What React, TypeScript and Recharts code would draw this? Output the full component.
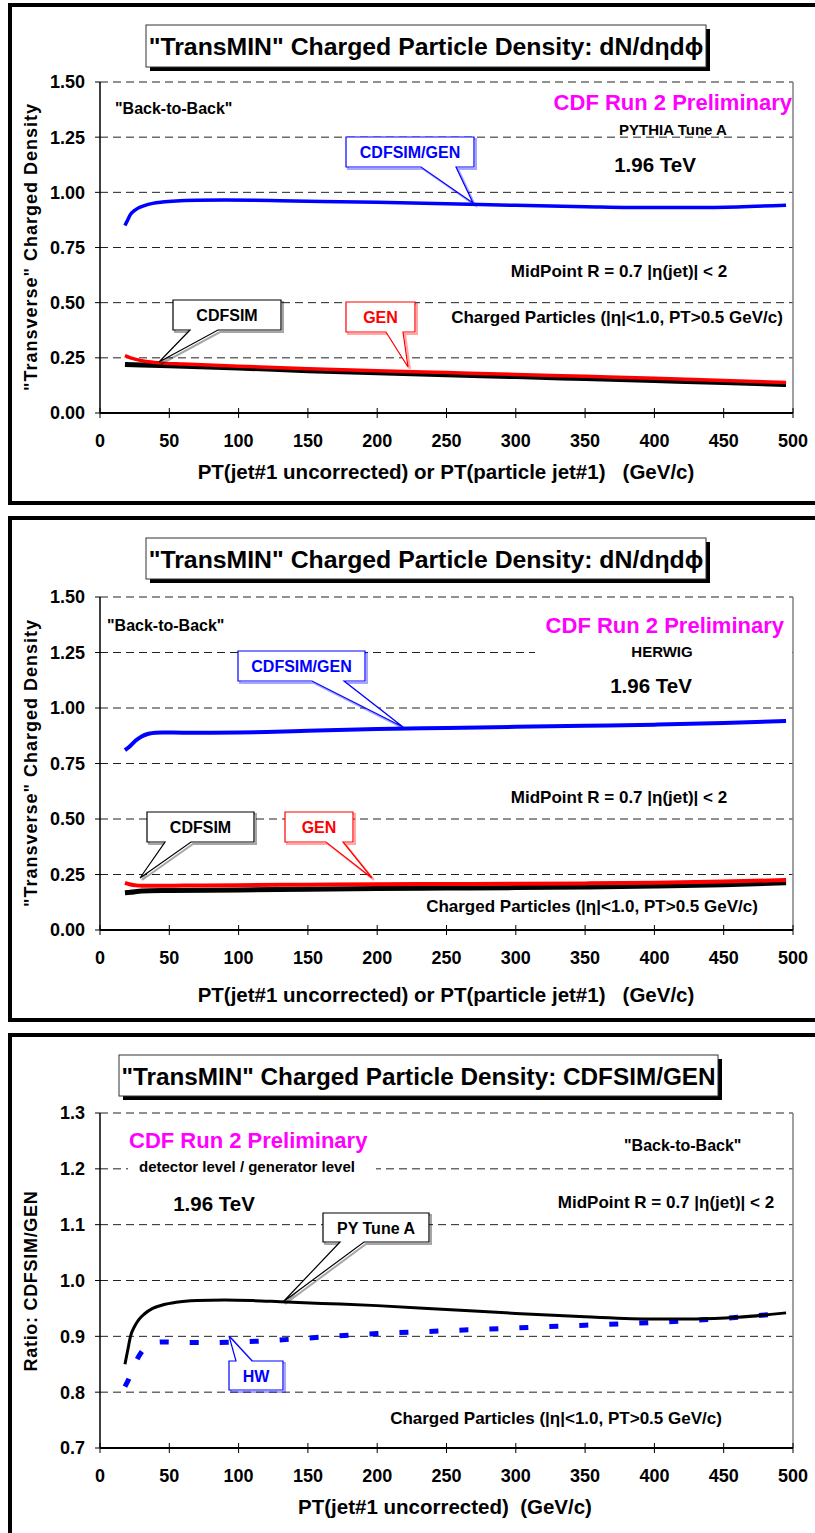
import React from "react";
import { LineChart, Line, XAxis, YAxis, CartesianGrid, ReferenceLine } from "recharts";

const FONT = "'Liberation Sans', Arial, Helvetica, sans-serif";

// shared axes
const ptTicks = [0, 50, 100, 150, 200, 250, 300, 350, 400, 450, 500];
const densityTicks = [0, 0.25, 0.5, 0.75, 1, 1.25, 1.5];
const ratioTicks = [0.7, 0.8, 0.9, 1.0, 1.1, 1.2, 1.3];

// panel 1 - PYTHIA Tune A
const pyRatioPt = [18, 20, 22, 25, 28, 32, 38, 45, 55, 70, 90, 110, 130, 160, 200, 250, 300, 350, 400, 430, 460, 495];
const pyRatio = [0.85, 0.875, 0.9, 0.918, 0.93, 0.94, 0.95, 0.956, 0.961, 0.964, 0.965, 0.964, 0.962, 0.959, 0.955, 0.948, 0.941, 0.935, 0.931, 0.931, 0.934, 0.942];
const pyGenPt = [18, 22, 26, 30, 35, 45, 60, 100, 150, 200, 250, 300, 350, 400, 450, 495];
const pyGen = [0.26, 0.25, 0.243, 0.237, 0.232, 0.226, 0.222, 0.212, 0.201, 0.191, 0.183, 0.175, 0.166, 0.157, 0.147, 0.138];
const pySimPt = [18, 30, 50, 100, 150, 200, 250, 300, 350, 400, 450, 495];
const pySim = [0.22, 0.218, 0.214, 0.204, 0.192, 0.182, 0.173, 0.165, 0.156, 0.147, 0.138, 0.129];

// panel 2 - HERWIG
const hwRatioPt = [18, 22, 26, 30, 35, 40, 45, 60, 80, 100, 120, 150, 200, 250, 300, 350, 400, 450, 495];
const hwRatio = [0.81, 0.83, 0.855, 0.872, 0.884, 0.889, 0.89, 0.889, 0.889, 0.89, 0.892, 0.897, 0.905, 0.91, 0.915, 0.92, 0.925, 0.932, 0.942];
const hwGenPt = [18, 22, 26, 30, 40, 60, 100, 150, 200, 250, 300, 350, 400, 450, 495];
const hwGen = [0.212, 0.205, 0.201, 0.199, 0.199, 0.2, 0.202, 0.204, 0.206, 0.207, 0.208, 0.21, 0.213, 0.218, 0.225];
const hwSimPt = [18, 22, 30, 50, 100, 150, 200, 250, 300, 350, 400, 450, 495];
const hwSim = [0.168, 0.17, 0.176, 0.178, 0.18, 0.184, 0.187, 0.189, 0.191, 0.194, 0.198, 0.204, 0.213];

const rows = (pts: number[], vals: number[]) => pts.map((pt, i) => ({ pt, v: vals[i] }));

type Series = { name: string; rows: { pt: number; v: number }[]; color: string; width: number; dash?: string };

const XTick = (props: any) => {
  const { x, y, payload } = props;
  return (
    <g>
      <line x1={x} x2={x} y1={y - 5} y2={y + 5} stroke="#000" strokeWidth={1} />
      <text x={x} y={y + 34} textAnchor="middle" fontFamily={FONT} fontWeight="bold" fontSize={18} fill="#000">
        {payload.value}
      </text>
    </g>
  );
};

function Panel(p: {
  top: number;
  height: number;
  plotTop: number;
  plotBottom: number;
  domain: [number, number];
  ticks: number[];
  digits: number;
  series: Series[];
}) {
  const margin = { top: p.plotTop - p.top, right: 22, left: 40, bottom: p.top + p.height - p.plotBottom - 60 };
  return (
    <div style={{ position: "absolute", left: 0, top: p.top }}>
      <LineChart width={815} height={p.height} margin={margin}>
        <CartesianGrid horizontal vertical={false} stroke="#222" strokeDasharray="8 5" />
        <XAxis
          type="number"
          dataKey="pt"
          domain={[0, 500]}
          ticks={ptTicks}
          interval={0}
          height={60}
          axisLine={{ stroke: "#000", strokeWidth: 2 }}
          tickLine={false}
          tickSize={0}
          tickMargin={0}
          tick={<XTick />}
        />
        <YAxis
          type="number"
          domain={p.domain}
          ticks={p.ticks}
          interval={0}
          width={60}
          axisLine={{ stroke: "#000", strokeWidth: 1.5 }}
          tickLine={{ stroke: "#000" }}
          tickSize={5}
          tickMargin={10}
          tickFormatter={(v: number) => v.toFixed(p.digits)}
          tick={{ fontFamily: FONT, fontWeight: "bold", fontSize: 18, fill: "#000" }}
        />
        <ReferenceLine x={500} stroke="#808080" strokeWidth={1.5} />
        {p.series.map((s) => (
          <Line
            key={s.name}
            data={s.rows}
            dataKey="v"
            type="monotone"
            stroke={s.color}
            strokeWidth={s.width}
            strokeDasharray={s.dash}
            dot={false}
            activeDot={false}
            isAnimationActive={false}
          />
        ))}
      </LineChart>
    </div>
  );
}

function Callout(c: {
  x0: number; y0: number; x1: number; y1: number; b1: number; b2: number; tx: number; ty: number;
  up?: boolean; color: string; label: string;
}) {
  const d = c.up
    ? `M${c.x0} ${c.y0} H${c.b1} L${c.tx} ${c.ty} L${c.b2} ${c.y0} H${c.x1} V${c.y1} H${c.x0} Z`
    : `M${c.x0} ${c.y0} H${c.x1} V${c.y1} H${c.b2} L${c.tx} ${c.ty} L${c.b1} ${c.y1} H${c.x0} Z`;
  return (
    <g>
      <path d={d} transform="translate(2,2)" fill="none" stroke={c.color} strokeOpacity={0.35} strokeWidth={2} />
      <path d={d} fill="#fff" stroke={c.color} strokeWidth={1.2} />
      <text x={(c.x0 + c.x1) / 2} y={(c.y0 + c.y1) / 2 + 6} textAnchor="middle" fontSize={16} fontWeight="bold" fill={c.color}>
        {c.label}
      </text>
    </g>
  );
}

function TitleBox(t: { x0: number; y0: number; x1: number; y1: number; label: string; size: number }) {
  return (
    <g>
      <rect x={t.x0 + 4} y={t.y0 + 4} width={t.x1 - t.x0} height={t.y1 - t.y0} fill="#000" />
      <rect x={t.x0} y={t.y0} width={t.x1 - t.x0} height={t.y1 - t.y0} fill="#fff" stroke="#333" strokeWidth={1} />
      <text x={(t.x0 + t.x1) / 2} y={(t.y0 + t.y1) / 2 + 9} textAnchor="middle" fontSize={t.size} fontWeight="bold" fill="#000">
        {t.label}
      </text>
    </g>
  );
}

const frame = (top: number, height: number): React.CSSProperties => ({
  position: "absolute",
  left: 8,
  top,
  width: 900,
  height,
  border: "4px solid #000",
  boxSizing: "border-box",
});

export default function App() {
  const blue = "#0000FF";
  const red = "#FF0000";
  const magenta = "#FF00FF";
  const densTitle = "\"TransMIN\" Charged Particle Density: dN/dηdϕ";
  const yDens = "\"Transverse\" Charged Density";
  const xBoth = "PT(jet#1 uncorrected) or PT(particle jet#1)   (GeV/c)";
  const charged = "Charged Particles (|η|<1.0, PT>0.5 GeV/c)";
  const midpoint = "MidPoint R = 0.7 |η(jet)| < 2";
  return (
    <div style={{ position: "relative", width: 815, height: 1533, overflow: "hidden", background: "#fff", fontFamily: FONT }}>
      <style>{"body{margin:0}"}</style>
      <div style={frame(3, 502)} />
      <div style={frame(516, 506)} />
      <div style={frame(1033, 600)} />

      <Panel
        top={0}
        height={500}
        plotTop={82}
        plotBottom={413}
        domain={[0, 1.5]}
        ticks={densityTicks}
        digits={2}
        series={[
          { name: "CDFSIM", rows: rows(pySimPt, pySim), color: "#000", width: 5 },
          { name: "GEN", rows: rows(pyGenPt, pyGen), color: red, width: 3.5 },
          { name: "CDFSIM/GEN", rows: rows(pyRatioPt, pyRatio), color: blue, width: 3.5 },
        ]}
      />
      <Panel
        top={500}
        height={500}
        plotTop={597}
        plotBottom={930}
        domain={[0, 1.5]}
        ticks={densityTicks}
        digits={2}
        series={[
          { name: "CDFSIM", rows: rows(hwSimPt, hwSim), color: "#000", width: 5 },
          { name: "GEN", rows: rows(hwGenPt, hwGen), color: red, width: 4 },
          { name: "CDFSIM/GEN", rows: rows(hwRatioPt, hwRatio), color: blue, width: 4 },
        ]}
      />
      <Panel
        top={1033}
        height={500}
        plotTop={1113}
        plotBottom={1448}
        domain={[0.7, 1.3]}
        ticks={ratioTicks}
        digits={1}
        series={[
          { name: "HW", rows: rows(hwRatioPt, hwRatio), color: blue, width: 5, dash: "9 21" },
          { name: "PY Tune A", rows: rows(pyRatioPt, pyRatio), color: "#000", width: 3 },
        ]}
      />

      <svg width={815} height={1533} style={{ position: "absolute", left: 0, top: 0, pointerEvents: "none" }} fontFamily={FONT}>
        {/* panel 1 */}
        <TitleBox x0={146} y0={25} x1={706} y1={67} size={24.8} label={densTitle} />
        <text x={115} y={114} fontSize={16} fontWeight="bold">"Back-to-Back"</text>
        <text x={792} y={110} textAnchor="end" fontSize={22} fontWeight="bold" fill={magenta}>CDF Run 2 Preliminary</text>
        <text x={673} y={135} textAnchor="middle" fontSize={15} fontWeight="bold">PYTHIA Tune A</text>
        <text x={655} y={172} textAnchor="middle" fontSize={20.5} fontWeight="bold">1.96 TeV</text>
        <text x={619} y={277} textAnchor="middle" fontSize={17} fontWeight="bold">{midpoint}</text>
        <text x={617} y={323} textAnchor="middle" fontSize={17} fontWeight="bold">{charged}</text>
        <Callout x0={346} y0={137} x1={474} y1={167} b1={421} b2={456} tx={473} ty={203} color={blue} label="CDFSIM/GEN" />
        <Callout x0={173} y0={300} x1={281} y1={330} b1={190} b2={218} tx={159} ty={362} color="#000" label="CDFSIM" />
        <Callout x0={346} y0={302} x1={415} y1={332} b1={386} b2={403} tx={408} ty={367} color={red} label="GEN" />
        <text transform="translate(31,247) rotate(-90)" textAnchor="middle" dominantBaseline="central" fontSize={18} letterSpacing={1} fontWeight="bold">{yDens}</text>
        <text x={446} y={479} textAnchor="middle" fontSize={20.5} fontWeight="bold" style={{ whiteSpace: "pre" }}>{xBoth}</text>

        {/* panel 2 */}
        <TitleBox x0={146} y0={538} x1={706} y1={579} size={24.8} label={densTitle} />
        <text x={107} y={631} fontSize={16} fontWeight="bold">"Back-to-Back"</text>
        <text x={784} y={633} textAnchor="end" fontSize={22} fontWeight="bold" fill={magenta}>CDF Run 2 Preliminary</text>
        <rect x={535} y={642} width={257} height={20} fill="#fff" />
        <text x={662} y={657} textAnchor="middle" fontSize={15} fontWeight="bold">HERWIG</text>
        <text x={651} y={693} textAnchor="middle" fontSize={20.5} fontWeight="bold">1.96 TeV</text>
        <text x={619} y={803} textAnchor="middle" fontSize={17} fontWeight="bold">{midpoint}</text>
        <text x={592} y={912} textAnchor="middle" fontSize={17} fontWeight="bold">{charged}</text>
        <Callout x0={238} y0={651} x1={365} y1={681} b1={312} b2={344} tx={403} ty={727} color={blue} label="CDFSIM/GEN" />
        <Callout x0={147} y0={812} x1={254} y1={842} b1={165} b2={191} tx={140} ty={878} color="#000" label="CDFSIM" />
        <Callout x0={285} y0={812} x1={353} y1={842} b1={326} b2={343} tx={372} ty={878} color={red} label="GEN" />
        <text transform="translate(31,763) rotate(-90)" textAnchor="middle" dominantBaseline="central" fontSize={18} letterSpacing={1} fontWeight="bold">{yDens}</text>
        <text x={446} y={1002} textAnchor="middle" fontSize={20.5} fontWeight="bold" style={{ whiteSpace: "pre" }}>{xBoth}</text>

        {/* panel 3 */}
        <TitleBox x0={119} y0={1055} x1={718} y1={1096} size={24.3} label={"\"TransMIN\" Charged Particle Density: CDFSIM/GEN"} />
        <text x={129} y={1148} fontSize={22} fontWeight="bold" fill={magenta}>CDF Run 2 Preliminary</text>
        <text x={624} y={1151} fontSize={16} fontWeight="bold">"Back-to-Back"</text>
        <rect x={128} y={1160} width={248} height={18} fill="#fff" />
        <text x={139} y={1172} fontSize={15} fontWeight="bold">detector level / generator level</text>
        <text x={214} y={1211} textAnchor="middle" fontSize={20.5} fontWeight="bold">1.96 TeV</text>
        <text x={666} y={1208} textAnchor="middle" fontSize={17} fontWeight="bold">{midpoint}</text>
        <text x={556} y={1424} textAnchor="middle" fontSize={17} fontWeight="bold">{charged}</text>
        <Callout x0={323} y0={1213} x1={429} y1={1242} b1={340} b2={364} tx={283} ty={1302} color="#000" label="PY Tune A" />
        <Callout x0={229} y0={1361} x1={283} y1={1390} b1={236} b2={252} tx={229} ty={1336} up color={blue} label="HW" />
        <text transform="translate(31,1281) rotate(-90)" textAnchor="middle" dominantBaseline="central" fontSize={18} letterSpacing={0.7} fontWeight="bold">Ratio: CDFSIM/GEN</text>
        <text x={445} y={1514} textAnchor="middle" fontSize={20.5} fontWeight="bold" style={{ whiteSpace: "pre" }}>PT(jet#1 uncorrected)  (GeV/c)</text>
      </svg>
    </div>
  );
}
